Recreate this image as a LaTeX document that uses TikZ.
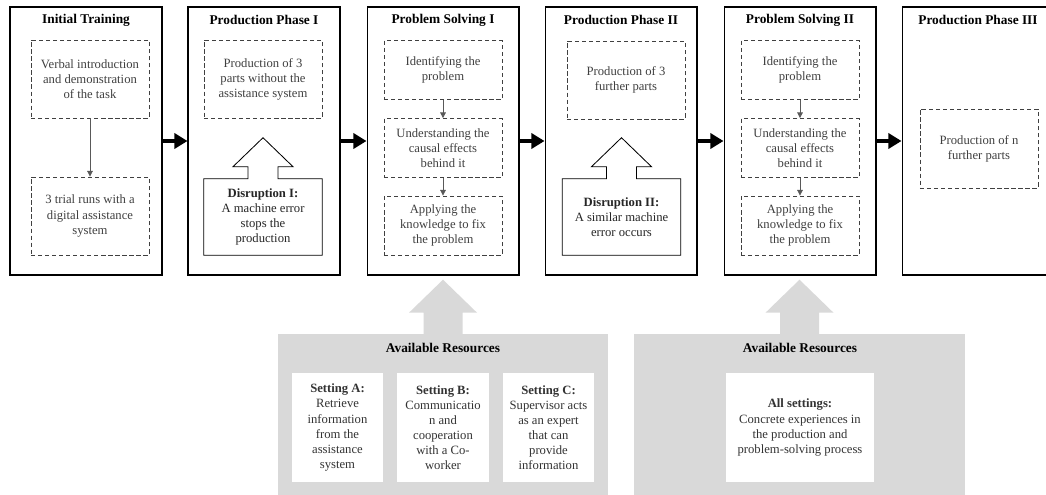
\documentclass[tikz,border=0pt]{standalone}
\usepackage{fontspec}
\setmainfont{Liberation Serif}
\usetikzlibrary{arrows.meta,calc}
\begin{document}
\begin{tikzpicture}[x=0.025cm,y=-0.025cm,
	phase/.style={draw,line width=1.4pt,minimum width=3.775cm,minimum height=6.7cm},
	phasetitle/.style={font=\fontsize{9.5}{11}\selectfont\bfseries},
	task/.style={draw=black!75,densely dashed,line width=0.6pt,text=black!75,align=center,
		minimum width=2.95cm,inner sep=1pt,font=\fontsize{9}{10.7}\selectfont},
	disrupt/.style={align=center,minimum width=2.95cm,minimum height=1.9cm,inner sep=1pt,
		text=black!85,font=\fontsize{9}{10.7}\selectfont},
	flow/.style={-{Triangle[length=0.33cm,width=0.38cm]},line width=0.11cm},
	link/.style={-{Triangle[length=4pt,width=4pt]},line width=0.6pt,draw=black!65},
	panel/.style={fill=black!15,minimum width=8.25cm,minimum height=4.3cm},
	resource/.style={fill=white,align=center,minimum height=2.725cm,inner sep=1pt,
		text=black!80,font=\fontsize{9}{10.7}\selectfont}]
	\fill[white] (0,0) rectangle (1046,494);
	\useasboundingbox (0,0) rectangle (1046,494);

	\node[phase] (pt) at (86,141) {};
	\node[phase] (pp1) at (264,141) {};
	\node[phase] (ps1) at (443,141) {};
	\node[phase] (pp2) at (621,141) {};
	\node[phase] (ps2) at (800,141) {};
	\node[phase] (pp3) at (978,141) {};
	\node[phasetitle] (tt) at (86,20) {Initial Training};
	\node[phasetitle] (tp1) at (264,20) {Production Phase I};
	\node[phasetitle] (ts1) at (443,20) {Problem Solving I};
	\node[phasetitle] (tp2) at (621,20) {Production Phase II};
	\node[phasetitle] (ts2) at (800,20) {Problem Solving II};
	\node[phasetitle] (tp3) at (978,20) {Production Phase III};
	\draw[flow] (pt) -- (pp1);
	\draw[flow] (pp1) -- (ps1);
	\draw[flow] (ps1) -- (pp2);
	\draw[flow] (pp2) -- (ps2);
	\draw[flow] (ps2) -- (pp3);

	\node[task,minimum height=1.95cm] (it1) at (90,79) {Verbal introduction\\and demonstration\\of the task};
	\node[task,minimum height=1.95cm] (it2) at (90,216) {3 trial runs with a\\digital assistance\\system};
	\draw[link] (it1) -- (it2);

	\node[task,minimum height=1.95cm] (pa) at (263,79) {Production of 3\\parts without the\\assistance system};
	\node[disrupt] (d1) at (263,217) {\textbf{Disruption I:}\\A machine error\\stops the\\production};
	\draw[line width=0.6pt] (d1.north west) -- (d1.south west) -- (d1.south east) -- (d1.north east)
		-- ($(d1.north)+(15,0)$) -- ++(0,-12) -- ++(15,0) -- ($(d1.north)+(0,-41)$)
		-- ($(d1.north)+(-30,-12)$) -- ++(15,0) -- ($(d1.north)+(-15,0)$) -- cycle;

	\node[task,minimum height=1.475cm] (s1a) at (443,70) {Identifying the\\problem};
	\node[task,minimum height=1.475cm] (s1b) at (443,148) {Understanding the\\causal effects\\behind it};
	\node[task,minimum height=1.475cm] (s1c) at (443,225.5) {Applying the\\knowledge to fix\\the problem};
	\draw[link] (s1a) -- (s1b);
	\draw[link] (s1b) -- (s1c);

	\node[task,minimum height=1.95cm] (pb) at (626,80) {Production of 3\\further parts};
	\node[disrupt] (d2) at (621.5,217) {\textbf{Disruption II:}\\A similar machine\\error occurs};
	\draw[line width=0.6pt] (d2.north west) -- (d2.south west) -- (d2.south east) -- (d2.north east)
		-- ($(d2.north)+(15,0)$) -- ++(0,-12) -- ++(15,0) -- ($(d2.north)+(0,-41)$)
		-- ($(d2.north)+(-30,-12)$) -- ++(15,0) -- ($(d2.north)+(-15,0)$) -- cycle;

	\node[task,minimum height=1.475cm] (s2a) at (800,70) {Identifying the\\problem};
	\node[task,minimum height=1.475cm] (s2b) at (800,148) {Understanding the\\causal effects\\behind it};
	\node[task,minimum height=1.475cm] (s2c) at (800,225.5) {Applying the\\knowledge to fix\\the problem};
	\draw[link] (s2a) -- (s2b);
	\draw[link] (s2b) -- (s2c);

	\node[task,minimum height=1.975cm] (pc) at (979,148.5) {Production of n\\further parts};

	\node[panel] (r1) at (443,420) {};
	\fill[black!15] ($(r1.north)+(-19.5,1)$) -- ++(0,-22) -- ++(-14.5,0) -- ($(r1.north)+(0,-54)$)
		-- ($(r1.north)+(34,-21)$) -- ++(-14.5,0) -- ($(r1.north)+(19.5,1)$) -- cycle;
	\node[phasetitle] (ar1) at (443,348) {Available Resources};
	\node[resource,minimum width=2.275cm] (sa) at (337.5,427.5) {\textbf{Setting A:}\\Retrieve\\information\\from the\\assistance\\system};
	\node[resource,minimum width=2.3cm] (sb) at (443,427.5) {\textbf{Setting B:}\\Communicatio\\n and\\cooperation\\with a Co-\\worker};
	\node[resource,minimum width=2.275cm] (sc) at (548.5,427.5) {\textbf{Setting C:}\\Supervisor acts\\as an expert\\that can\\provide\\information};

	\node[panel] (r2) at (799.5,420) {};
	\fill[black!15] ($(r2.north)+(-19.5,1)$) -- ++(0,-22) -- ++(-14.5,0) -- ($(r2.north)+(0,-54)$)
		-- ($(r2.north)+(34,-21)$) -- ++(-14.5,0) -- ($(r2.north)+(19.5,1)$) -- cycle;
	\node[phasetitle] (ar2) at (800,348) {Available Resources};
	\node[resource,minimum width=3.7cm] (sd) at (800,427.5) {\textbf{All settings:}\\Concrete experiences in\\the production and\\problem-solving process};
\end{tikzpicture}
\end{document}
